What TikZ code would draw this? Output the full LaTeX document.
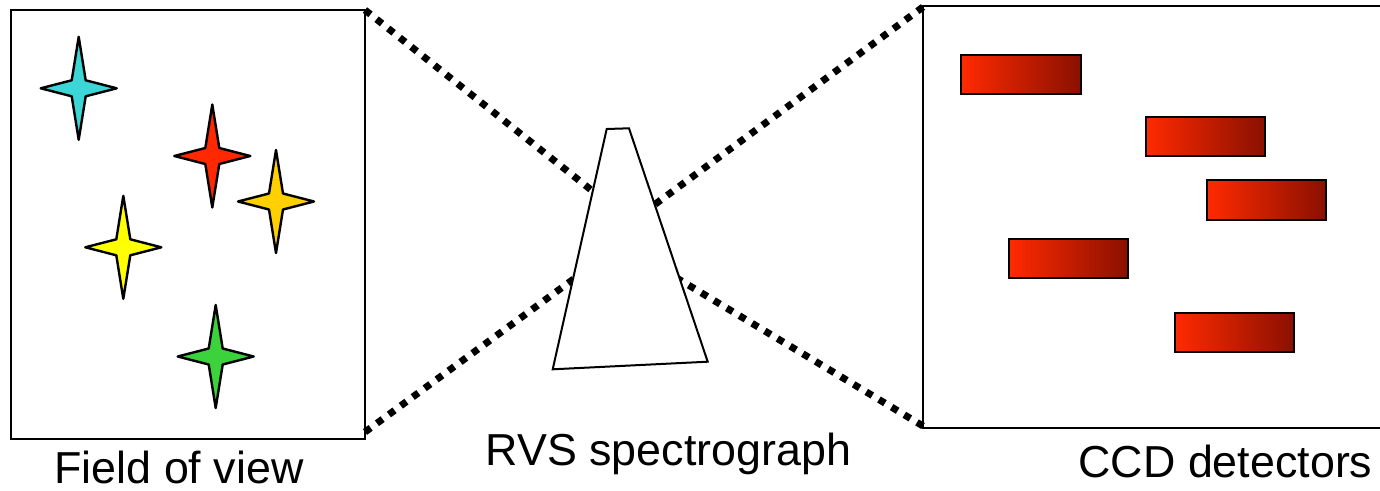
\documentclass[tikz,border=0pt]{standalone}
\usepackage{fontspec}
\setmainfont{Liberation Sans}
\definecolor{starcyan}{RGB}{60,214,214}
\definecolor{starred}{RGB}{255,40,0}
\definecolor{stargold}{RGB}{255,208,0}
\definecolor{staryellow}{RGB}{255,255,0}
\definecolor{stargreen}{RGB}{60,210,60}
\definecolor{ccdleft}{RGB}{255,42,0}
\definecolor{ccdright}{RGB}{138,16,0}
\newcommand\myfourstar[3]{%
  \filldraw[starline,fill=#3] (#1,#2) ++(0,-51.5) -- ++(7,43.5) -- ++(31,8) -- ++(-31,8) -- ++(-7,43.5) -- ++(-7,-43.5) -- ++(-31,-8) -- ++(31,-8) -- cycle;}
\begin{document}
\begin{tikzpicture}[x=1pt,y=-1pt,
  boxline/.style={draw=black,line width=2pt},
  starline/.style={draw=black,line width=2.4pt,line join=round},
  dotline/.style={draw=black,line width=7pt,dash pattern=on 7pt off 7.8pt},
  ccd/.style={draw=black,line width=2pt,left color=ccdleft,right color=ccdright},
  label/.style={font=\fontsize{44.8}{50}\selectfont,anchor=base,inner sep=0pt}]
\useasboundingbox (0,0) rectangle (1380,490);
% boxes
\draw[boxline] (11,10) rectangle (365,439);
\coordinate (fovTR) at (365,10);
\coordinate (fovBR) at (365,432);
\draw[boxline] (1385,6) -- (923,6) -- (923,428) -- (1385,428);
\coordinate (ccdTL) at (923,7);
\coordinate (ccdBL) at (923,426);
% trapezoid inner targets
\coordinate (tUL) at (600,197);
\coordinate (tLL) at (590,267);
\coordinate (tUR) at (650,208);
\coordinate (tLR) at (670,274);
\draw[dotline] (fovTR) -- (tUL);
\draw[dotline] (fovBR) -- (tLL);
\draw[dotline] (ccdTL) -- (tUR);
\draw[dotline] (ccdBL) -- (tLR);
\filldraw[boxline,fill=white,line join=miter] (606.7,129) -- (629,128.3) -- (707.7,361.7) -- (552.7,369.3) -- cycle;
% stars
\myfourstar{78.7}{88.3}{starcyan}
\myfourstar{212.3}{156}{starred}
\myfourstar{276}{201.5}{stargold}
\myfourstar{123.3}{247.3}{staryellow}
\myfourstar{215.7}{356.5}{stargreen}
% CCDs
\draw[ccd] (961.3,55) rectangle (1080.7,94.3);
\draw[ccd] (1146,116.7) rectangle (1264.7,156);
\draw[ccd] (1207,180.3) rectangle (1326,219.7);
\draw[ccd] (1008.7,238.7) rectangle (1127.7,278.3);
\draw[ccd] (1175,313.3) rectangle (1294,352.3);
% labels
\node[label] (fov) at (179,483) {Field of view};
\node[label] (rvs) at (668.5,465) {RVS spectrograph};
\node[label] (ccdlab) at (1225.5,477) {CCD detectors};
\end{tikzpicture}
\end{document}
